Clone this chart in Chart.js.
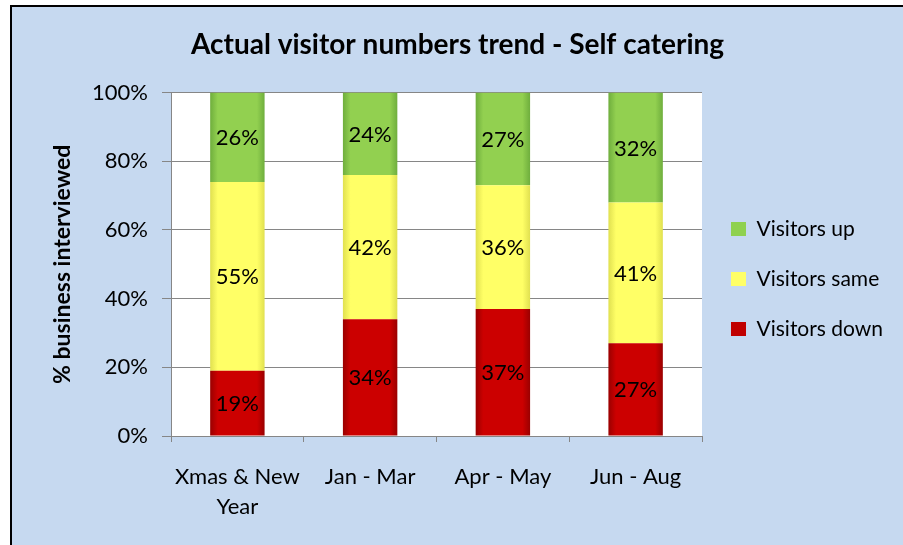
<!DOCTYPE html>
<html><head><meta charset="utf-8">
<script src="https://cdn.jsdelivr.net/npm/chart.js@4"></script>
<style>html,body{margin:0;padding:0;background:#fff}#wrap{width:903px;height:545px;position:relative}</style>
</head><body><div id="wrap"><canvas id="c" width="903" height="545"></canvas></div>
<script>
const categories = [['Xmas & New', 'Year'], 'Jan - Mar', 'Apr - May', 'Jun - Aug'];
const visitorsDown = [19, 34, 37, 27];
const visitorsSame = [55, 42, 36, 41];
const visitorsUp = [26, 24, 27, 32];
const yTicks = [0, 20, 40, 60, 80, 100];
const seriesNames = ['Visitors down', 'Visitors same', 'Visitors up'];

const FONT = 'Lato';
const BAR_PCT = 0.41;

function grad(edge, mid) {
  return (ctx) => {
    const ch = ctx.chart;
    const xs = ch.scales && ch.scales.x;
    if (!ch.chartArea || !xs || ctx.dataIndex === undefined) return mid;
    const cx = xs.getPixelForValue(ctx.dataIndex);
    const w = xs.width / categories.length * BAR_PCT;
    const g = ch.ctx.createLinearGradient(cx - w / 2, 0, cx + w / 2, 0);
    g.addColorStop(0, edge);
    g.addColorStop(0.14, mid);
    g.addColorStop(0.86, mid);
    g.addColorStop(1, edge);
    return g;
  };
}
const solid = ['#c00000', '#ffff66', '#8fd14f'];

const bgPlugin = {
  id: 'bg',
  beforeDraw(chart) {
    const c = chart.ctx;
    c.save();
    c.fillStyle = '#ffffff';
    c.fillRect(0, 0, chart.width, chart.height);
    c.fillStyle = '#c6d9f0';
    c.fillRect(10, 5, chart.width - 10, chart.height - 5);
    c.fillStyle = '#000000';
    c.fillRect(10, 5, 2, chart.height - 5);
    c.fillRect(10, 5, chart.width - 10, 2);
    const a = chart.chartArea;
    c.fillStyle = '#ffffff';
    c.fillRect(a.left, a.top, a.right - a.left, a.bottom - a.top);
    c.restore();
  }
};

const labelPlugin = {
  id: 'segLabels',
  afterDatasetsDraw(chart) {
    const c = chart.ctx;
    c.save();
    c.font = '22px ' + FONT;
    c.fillStyle = '#000';
    c.textAlign = 'center';
    c.textBaseline = 'middle';
    chart.data.datasets.forEach((ds, i) => {
      const meta = chart.getDatasetMeta(i);
      meta.data.forEach((bar, j) => {
        const y = (bar.y + bar.base) / 2;
        c.fillText(ds.data[j] + '%', bar.x, y + 1);
      });
    });
    c.restore();
  }
};

const legendWidthPlugin = {
  id: 'legendWidth',
  afterInit(chart) {
    const lg = chart.legend;
    if (lg && !lg._patched) {
      const orig = lg.fit;
      lg.fit = function () { orig.call(this); this.width = 201; };
      lg._patched = true;
    }
  }
};

const chart = new Chart(document.getElementById('c'), {
  type: 'bar',
  data: {
    labels: categories,
    datasets: [
      { label: seriesNames[0], data: visitorsDown, backgroundColor: grad('#9a0000', '#cc0000') },
      { label: seriesNames[1], data: visitorsSame, backgroundColor: grad('#e0e050', '#ffff66') },
      { label: seriesNames[2], data: visitorsUp, backgroundColor: grad('#6fae3d', '#92d050') }
    ]
  },
  options: {
    responsive: false,
    devicePixelRatio: 1,
    animation: false,
    barPercentage: BAR_PCT,
    categoryPercentage: 1,
    layout: { padding: { left: 12, top: 7, right: 0, bottom: 0 } },
    plugins: {
      title: {
        display: true,
        text: 'Actual visitor numbers trend - Self catering',
        color: '#000',
        font: { family: FONT, size: 28, weight: 'bold', lineHeight: 1.2 },
        padding: { top: 21, bottom: 31 }
      },
      legend: {
        position: 'right',
        reverse: true,
        title: { display: true, text: '', font: { size: 5, lineHeight: 1.2 }, padding: 0 },
        labels: {
          color: '#000',
          font: { family: FONT, size: 21 },
          boxWidth: 15,
          boxHeight: 14,
          padding: 29,
          generateLabels(chart) {
            const items = Chart.defaults.plugins.legend.labels.generateLabels(chart);
            items.forEach(it => { it.fillStyle = solid[it.datasetIndex]; it.strokeStyle = solid[it.datasetIndex]; it.lineWidth = 0; });
            return items;
          }
        }
      },
      tooltip: { enabled: false }
    },
    scales: {
      x: {
        stacked: true,
        afterFit(s) { s.height = 109; },
        grid: { offset: true, drawOnChartArea: false, tickLength: 6, color: '#868686' },
        border: { color: '#868686', width: 1 },
        ticks: { color: '#000', font: { family: FONT, size: 22, lineHeight: 1.36 }, padding: 20, maxRotation: 0 }
      },
      y: {
        stacked: true,
        min: 0,
        max: 100,
        afterFit(s) { s.width = 159; },
        afterBuildTicks(s) { s.ticks = yTicks.map(v => ({ value: v })); },
        grid: { color: '#868686', tickLength: 9 },
        border: { color: '#868686', width: 1 },
        ticks: { color: '#000', font: { family: FONT, size: 22 }, padding: 14, callback: v => v + '%' },
        title: {
          display: true,
          text: '% business interviewed',
          color: '#000',
          font: { family: FONT, size: 23, weight: 'bold', lineHeight: 1.2 },
          padding: { top: 37, bottom: 0 }
        }
      }
    }
  },
  plugins: [bgPlugin, labelPlugin, legendWidthPlugin]
});
</script>
</body></html>
